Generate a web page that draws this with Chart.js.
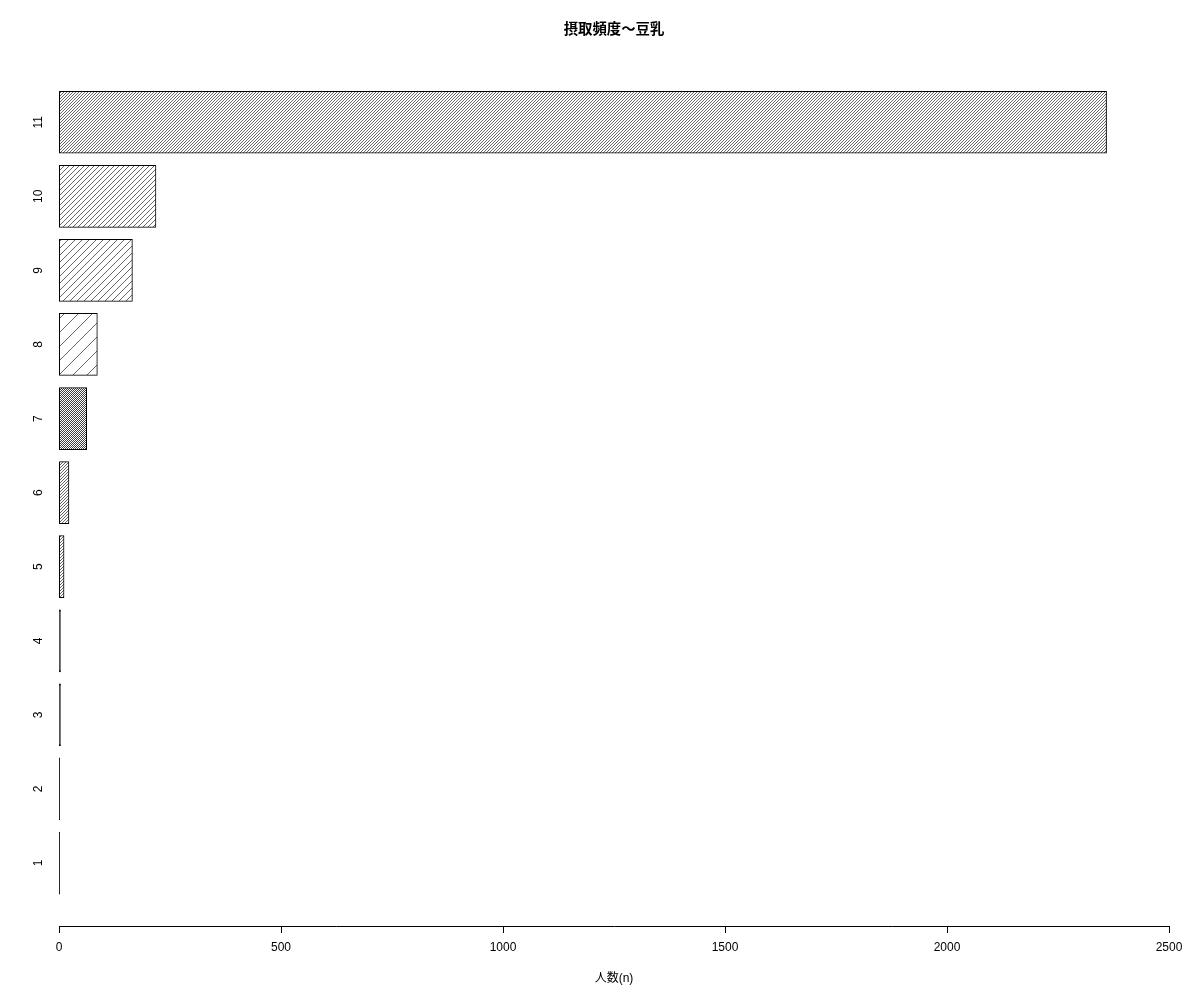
<!DOCTYPE html>
<html>
<head>
<meta charset="utf-8">
<title>摂取頻度～豆乳</title>
<script src="https://cdn.jsdelivr.net/npm/chart.js@4.4.1/dist/chart.umd.min.js"></script>
<style>
  body { margin: 0; background: #fff; }
  canvas { display: block; }
</style>
</head>
<body>
<canvas id="myChart" width="1200" height="1000"></canvas>
<script>
// values (bottom bar first)
const categories = ["1", "2", "3", "4", "5", "6", "7", "8", "9", "10", "11"];
const counts = [1, 1, 3, 3, 11, 22, 62, 86, 165, 218, 2359];
const xTicks = [0, 500, 1000, 1500, 2000, 2500];
const titleText = "摂取頻度～豆乳";
const xLabel = "人数(n)";

// hatch line spacing for each bar (px), a style, not data
const hatchGap = [1, 1, 1, 1, 3, 3, 2, 14, 7, 5, 3];

const FONT = '"Liberation Sans", "Noto Sans CJK JP", sans-serif';

const canvas = document.getElementById("myChart");
const ctx = canvas.getContext("2d");

// diagonal "/" hatching like R's density= fill
function hatch(gap) {
  const tile = document.createElement("canvas");
  tile.width = gap;
  tile.height = gap;
  const g = tile.getContext("2d");
  g.fillStyle = gap > 1 ? "#fff" : "#222";
  g.fillRect(0, 0, gap, gap);
  if (gap > 1) {
    g.strokeStyle = "#000";
    g.lineWidth = gap > 2 ? 0.6 : 0.75;
    g.beginPath();
    for (let k = -1; k <= 1; k++) {
      g.moveTo(k * gap, gap);
      g.lineTo(k * gap + gap, 0);
    }
    g.stroke();
  }
  return ctx.createPattern(tile, "repeat");
}

// R barplot layout: width 1, space 0.2
const barPos = categories.map((c, i) => 0.7 + 1.2 * i);
const yMin = 0.2 - 0.04 * 13;
const yMax = 13.2 + 0.04 * 13;

Chart.defaults.color = "#000";
Chart.defaults.font.family = FONT;
Chart.defaults.font.size = 12;

new Chart(ctx, {
  type: "bar",
  data: {
    datasets: [{
      data: counts.map((v, i) => ({ x: v, y: barPos[i] })),
      backgroundColor: hatchGap.map(hatch),
      borderColor: "#000",
      borderWidth: 1,
      borderSkipped: false,
      inflateAmount: 0.5,
      categoryPercentage: 1,
      barPercentage: 1 / 1.2
    }]
  },
  options: {
    indexAxis: "y",
    responsive: false,
    animation: false,
    layout: { padding: { left: 0, right: 31, top: 0, bottom: 0 } },
    plugins: {
      legend: { display: false },
      tooltip: { enabled: false },
      title: {
        display: true,
        text: titleText,
        fullSize: false,
        font: { size: 14.4, weight: "bold", family: FONT },
        padding: { top: 21, bottom: 21 }
      }
    },
    scales: {
      x: {
        type: "linear",
        min: xTicks[0],
        max: xTicks[xTicks.length - 1],
        afterBuildTicks: axis => { axis.ticks = xTicks.map(v => ({ value: v })); },
        afterFit: axis => { axis.height = 74; },
        grid: { drawOnChartArea: false, drawTicks: true, tickLength: 7, color: "#000" },
        border: { display: true, color: "#000", width: 1 },
        ticks: { padding: 7, font: { size: 12 }, maxRotation: 0, callback: v => String(v) },
        title: {
          display: true,
          text: xLabel,
          font: { size: 12 },
          padding: { top: 0, bottom: 14 }
        }
      },
      y: {
        type: "linear",
        offset: false,
        min: yMin,
        max: yMax,
        afterBuildTicks: axis => { axis.ticks = barPos.map(v => ({ value: v })); },
        afterFit: axis => { axis.width = 59; },
        grid: { display: false, drawTicks: false, offset: false },
        border: { display: false },
        ticks: {
          autoSkip: false,
          minRotation: 90,
          maxRotation: 90,
          crossAlign: "center",
          padding: 14,
          font: { size: 12 },
          callback: (value, index) => categories[index]
        }
      }
    }
  }
});
</script>
</body>
</html>
